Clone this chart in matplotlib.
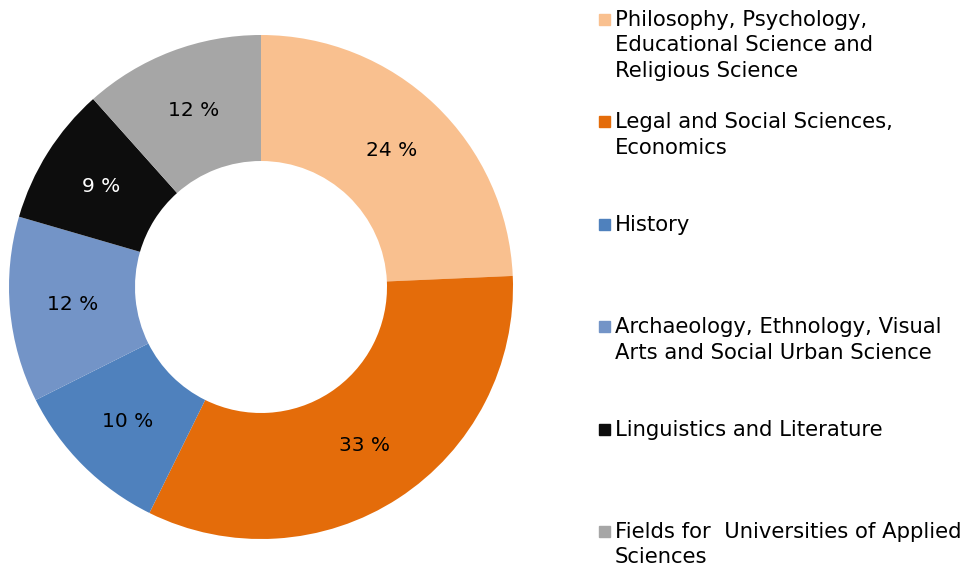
import matplotlib
matplotlib.use("Agg")
import matplotlib.pyplot as plt
from matplotlib.patches import Rectangle

# Shares by field (percent)
fields = [
    "Philosophy, Psychology,\nEducational Science and\nReligious Science",
    "Legal and Social Sciences,\nEconomics",
    "History",
    "Archaeology, Ethnology, Visual\nArts and Social Urban Science",
    "Linguistics and Literature",
    "Fields for  Universities of Applied\nSciences",
]
shares = [24.3, 33.0, 10.3, 11.9, 8.9, 11.6]
colors = ["#F9C08F", "#E46C0A", "#4F81BD", "#7394C7", "#0D0D0D", "#A6A6A6"]
label_colors = ["black", "black", "black", "black", "white", "black"]

W, H = 969, 568
fig = plt.figure(figsize=(W / 100, H / 100), dpi=100)

# donut: centre at (261, 287) px, outer radius 252 px
cx, cy, r = 261, 287, 252
ax = fig.add_axes([(cx - r) / W, (H - cy - r) / H, 2 * r / W, 2 * r / H])
wedges, texts, autotexts = ax.pie(
    shares, colors=colors, startangle=90, counterclock=False,
    radius=1, wedgeprops=dict(width=0.5, linewidth=0),
    autopct=lambda p: f"{round(p)} %", pctdistance=0.75,
    textprops=dict(fontsize=14.5, family="DejaVu Sans"),
)
for t, c in zip(autotexts, label_colors):
    t.set_color(c)
ax.set_xlim(-1, 1)
ax.set_ylim(-1, 1)
ax.set_aspect("equal")
ax.axis("off")

# legend drawn by hand so the marker sits on the first line
for i, (name, col) in enumerate(zip(fields, colors)):
    top = 14 + i * 102.4
    fig.patches.append(Rectangle((599 / W, (H - top - 11) / H), 11 / W, 11 / H,
                                 transform=fig.transFigure, color=col))
    fig.text(615 / W, (H - top + 4) / H, name, fontsize=15.2, va="top",
             ha="left", linespacing=1.34, color="black", family="DejaVu Sans")

fig.savefig("out.png", dpi=100)
